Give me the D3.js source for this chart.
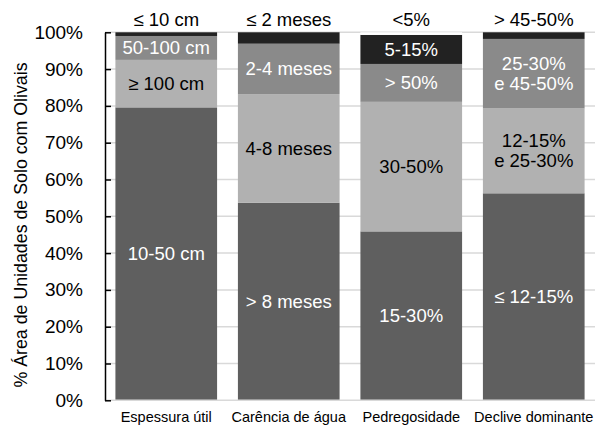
<!DOCTYPE html>
<html><head><meta charset="utf-8">
<script src="https://cdn.jsdelivr.net/npm/d3@7"></script>
<style>body{margin:0;background:#fff}svg{display:block}text{font-family:"Liberation Sans",Arial,sans-serif}</style>
</head><body>
<svg id="c" width="597" height="427"></svg>
<script>
const categories = ["Espessura útil", "Carência de água", "Pedregosidade", "Declive dominante"];
const serieDark   = [79.6, 53.7, 45.9, 56.25];
const serieLight  = [12.9, 29.5, 35.2, 23.05];
const serieMedium = [6.5, 13.7, 10.3, 18.9];
const serieBlack  = [1.0, 3.1, 7.9, 1.8];
const serieWhite  = [0, 0, 0.7, 0];
const labelsDark   = ["10-50 cm", "> 8 meses", "15-30%", "≤ 12-15%"];
const labelsLight  = ["≥ 100 cm", "4-8 meses", "30-50%", "12-15%\ne 25-30%"];
const labelsMedium = ["50-100 cm", "2-4 meses", "> 50%", "25-30%\ne 45-50%"];
const labelsBlack  = ["", "", "5-15%", ""];
const topLabels    = ["≤ 10 cm", "≤ 2 meses", "<5%", "> 45-50%"];
const yTicks = [0,10,20,30,40,50,60,70,80,90,100];
const yTitle = "% Área de Unidades de Solo com Olivais";

const seriesDefs = [
  {vals: serieDark, labels: labelsDark, fill: "#5f5f5f", text: "#fff"},
  {vals: serieLight, labels: labelsLight, fill: "#b1b1b1", text: "#000"},
  {vals: serieMedium, labels: labelsMedium, fill: "#8a8a8a", text: "#fff"},
  {vals: serieBlack, labels: labelsBlack, fill: "#222222", text: "#fff"},
  {vals: serieWhite, labels: ["","","",""], fill: "#ffffff", text: "#000"}
];

const svg = d3.select("#c");
const m = {l:105, r:2, t:32.3, b:26.7};
const W = 597, H = 427;
const x = d3.scaleBand().domain(categories).range([m.l, W - m.r]).paddingInner(0.17).paddingOuter(0.085);
const y = d3.scaleLinear().domain([0,100]).range([H - m.b, m.t]);

// gridlines
svg.append("g").selectAll("line").data(yTicks.filter(d=>d>0)).join("line")
  .attr("x1", m.l).attr("x2", W - m.r).attr("y1", d=>y(d)).attr("y2", d=>y(d))
  .attr("stroke", "#d9d9d9").attr("stroke-width", 1.5);

// stack
const table = categories.map((c,i)=>{const o={cat:c}; seriesDefs.forEach((s,k)=>o["s"+k]=s.vals[i]); return o;});
const stack = d3.stack().keys(seriesDefs.map((s,k)=>"s"+k))(table);

stack.forEach((layer,k)=>{
  const def = seriesDefs[k];
  svg.append("g").selectAll("rect").data(layer).join("rect")
    .attr("x", d=>x(d.data.cat)).attr("width", x.bandwidth())
    .attr("y", d=>y(d[1])).attr("height", d=>y(d[0]) - y(d[1]))
    .attr("fill", def.fill);
});

// bottom axis line
svg.append("line").attr("x1", m.l).attr("x2", W - m.r).attr("y1", y(0)).attr("y2", y(0))
  .attr("stroke", "#d9d9d9").attr("stroke-width", 1.5);

// left axis
const yAxis = d3.axisLeft(y).tickValues(yTicks).tickFormat(d=>d+"%").tickSizeInner(-6).tickSizeOuter(0).tickPadding(22);
const ga = svg.append("g").attr("transform", `translate(${m.l},0)`).call(yAxis);
ga.select(".domain").attr("stroke", "#000").attr("stroke-width", 1.5);
ga.selectAll(".tick line").attr("stroke", "#000").attr("stroke-width", 1.5);
ga.selectAll(".tick text").attr("font-size", 19).attr("fill", "#000").attr("font-family", "Liberation Sans, Arial, sans-serif");

// segment labels
stack.forEach((layer,k)=>{
  const def = seriesDefs[k];
  layer.forEach((d,i)=>{
    const lab = def.labels[i];
    if (!lab) return;
    const lines = lab.split("\n");
    const cy = (y(d[0]) + y(d[1]))/2;
    const lh = 20;
    const t = svg.append("text").attr("text-anchor","middle").attr("font-size",18.5).attr("fill",def.text);
    lines.forEach((ln,j)=>{
      t.append("tspan").attr("x", x(d.data.cat)+x.bandwidth()/2)
        .attr("y", cy + (j - (lines.length-1)/2)*lh).attr("dy","0.35em").text(ln);
    });
  });
});

// top labels
svg.append("g").selectAll("text").data(topLabels).join("text")
  .attr("x", (d,i)=>x(categories[i])+x.bandwidth()/2).attr("y", 26)
  .attr("text-anchor","middle").attr("font-size",18.5).attr("fill","#000").text(d=>d);

// x labels
svg.append("g").selectAll("text").data(categories).join("text")
  .attr("x", d=>x(d)+x.bandwidth()/2).attr("y", 422)
  .attr("text-anchor","middle").attr("font-size",14.5).attr("fill","#000").text(d=>d);

// y title
svg.append("text").attr("transform", `translate(27,225) rotate(-90)`)
  .attr("text-anchor","middle").attr("font-size",17.8).attr("fill","#000").text(yTitle);
</script>
</body></html>
